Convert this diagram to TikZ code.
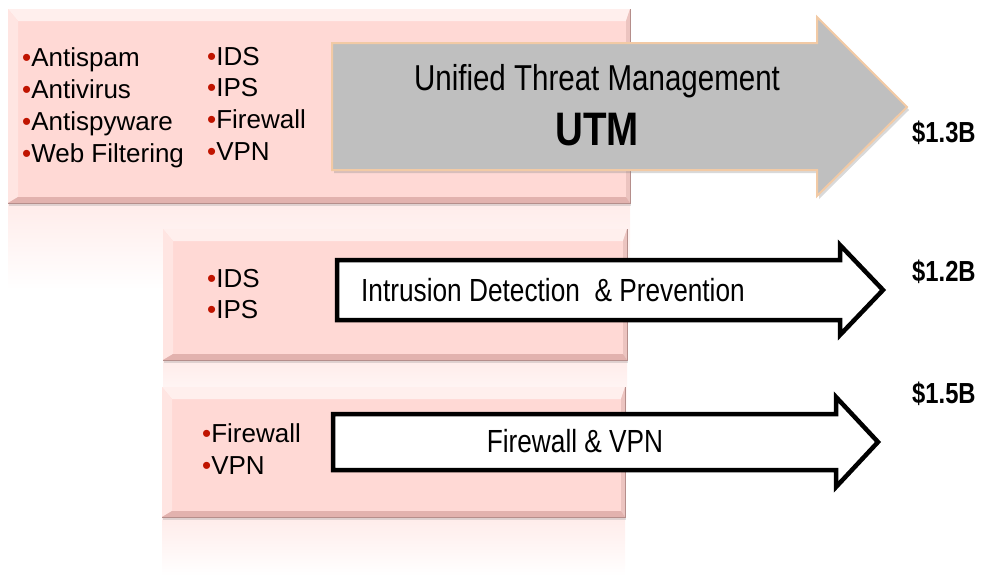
\documentclass[tikz,border=0pt]{standalone}
\usepackage{fontspec}
\setmainfont{Liberation Sans}
\usepackage{graphicx}
\usetikzlibrary{shadows}

\definecolor{boxpink}{RGB}{255,217,213}
\definecolor{bevellight}{RGB}{255,239,237}
\definecolor{bevelleft}{RGB}{255,229,226}
\definecolor{bevelright}{RGB}{236,196,192}
\definecolor{beveldark}{RGB}{226,178,174}
\definecolor{bulletred}{RGB}{192,20,0}
\definecolor{utmgray}{RGB}{191,191,191}
\definecolor{utmedge}{RGB}{242,202,165}

\newcommand{\bul}{{\color{bulletred}\textbullet}}
\newcommand{\narrow}[1]{\scalebox{0.82}[1]{#1}}
% pink box with bevelled edges: x1 y1 x2 y2
\newcommand{\bevelbox}[4]{%
\fill [boxpink, drop shadow={opacity=0.25, shadow xshift=1pt, shadow yshift=-3pt}] (#1, #2) rectangle (#3, #4);
\fill [bevellight] (#1, #2) -- (#3, #2) -- (#3-4, #2+12) -- (#1+10, #2+12) -- cycle;
\fill [bevelleft] (#1, #2) -- (#1+10, #2+12) -- (#1+10, #4-6) -- (#1, #4) -- cycle;
\fill [bevelright] (#3, #2) -- (#3, #4) -- (#3-4, #4-6) -- (#3-4, #2+12) -- cycle;
\fill [beveldark] (#1, #4) -- (#3, #4) -- (#3-4, #4-6) -- (#1+10, #4-6) -- cycle;
\draw [beveldark!80!black, line width=0.6pt] (#3, #2) -- (#3, #4) -- (#1, #4);
}

\tikzset{
  listtext/.style={anchor=base west, inner sep=0pt, font=\fontsize{26}{31}\selectfont},
  arrowtext/.style={anchor=base, inner sep=0pt, font=\fontsize{32}{36}\selectfont},
  money/.style={anchor=base west, inner sep=0pt, font=\fontsize{29}{34}\selectfont\bfseries},
  bluntarrow/.style={draw=black, line width=4.5pt, fill=white, miter limit=10},
}

\begin{document}
\begin{tikzpicture}[x=1pt, y=-1pt]
\useasboundingbox (0, 0) rectangle (982, 576);

% reflections
\shade [top color=boxpink!50, bottom color=white] (8, 203) rectangle (630, 290);
\shade [top color=boxpink!50, bottom color=white] (163, 360) rectangle (627, 420);
\shade [top color=boxpink!50, bottom color=white] (162, 517) rectangle (625, 576);

% boxes
\bevelbox{8}{9}{630}{203}
\bevelbox{163}{229}{627}{360}
\bevelbox{162}{387}{625}{517}

% UTM
\node [listtext] (antispam) at (22, 66) {\bul Antispam};
\node [listtext] (antivirus) at (22, 98) {\bul Antivirus};
\node [listtext] (antispyware) at (22, 130) {\bul Antispyware};
\node [listtext] (webfilter) at (22, 162) {\bul Web Filtering};
\node [listtext] (utmids) at (207, 65) {\bul IDS};
\node [listtext] (utmips) at (207, 96.5) {\bul IPS};
\node [listtext] (utmfirewall) at (207, 128) {\bul Firewall};
\node [listtext] (utmvpn) at (207, 160) {\bul VPN};

\draw [fill=utmgray, draw=utmedge, line width=2pt,
  drop shadow={opacity=0.3, shadow xshift=2pt, shadow yshift=-3pt}]
  (332, 43) -- (817, 43) -- (817, 17) -- (907, 107) -- (817, 196) -- (817, 170) -- (332, 170) -- cycle;
\node [anchor=base, inner sep=0pt, font=\fontsize{36}{40}\selectfont] (utmname) at (597, 90) {\narrow{Unified Threat Management}};
\node [anchor=base, inner sep=0pt, font=\fontsize{47}{50}\selectfont\bfseries] (utm) at (597, 145) {\narrow{UTM}};
\node [money] (utmcost) at (912, 142) {\narrow{\$1.3B}};

% IDP
\node [listtext] (ids) at (207, 287) {\bul IDS};
\node [listtext] (ips) at (207, 318) {\bul IPS};
\draw [bluntarrow] (337, 260) -- (840, 260) -- (840, 245) -- (883, 290) -- (840, 335) -- (840, 320) -- (337, 320) -- cycle;
\node [arrowtext] (idpname) at (553, 301) {\narrow{Intrusion Detection\ \ \& Prevention}};
\node [money] (idpcost) at (912, 281) {\narrow{\$1.2B}};

% Firewall
\node [listtext] (firewall) at (202, 442) {\bul Firewall};
\node [listtext] (vpn) at (202, 474) {\bul VPN};
\draw [bluntarrow] (333, 414) -- (836, 414) -- (836, 397) -- (878, 442) -- (836, 487) -- (836, 470) -- (333, 470) -- cycle;
\node [arrowtext] (fwname) at (575, 452) {\narrow{Firewall \& VPN}};
\node [money] (fwcost) at (912, 403) {\narrow{\$1.5B}};
\end{tikzpicture}
\end{document}
